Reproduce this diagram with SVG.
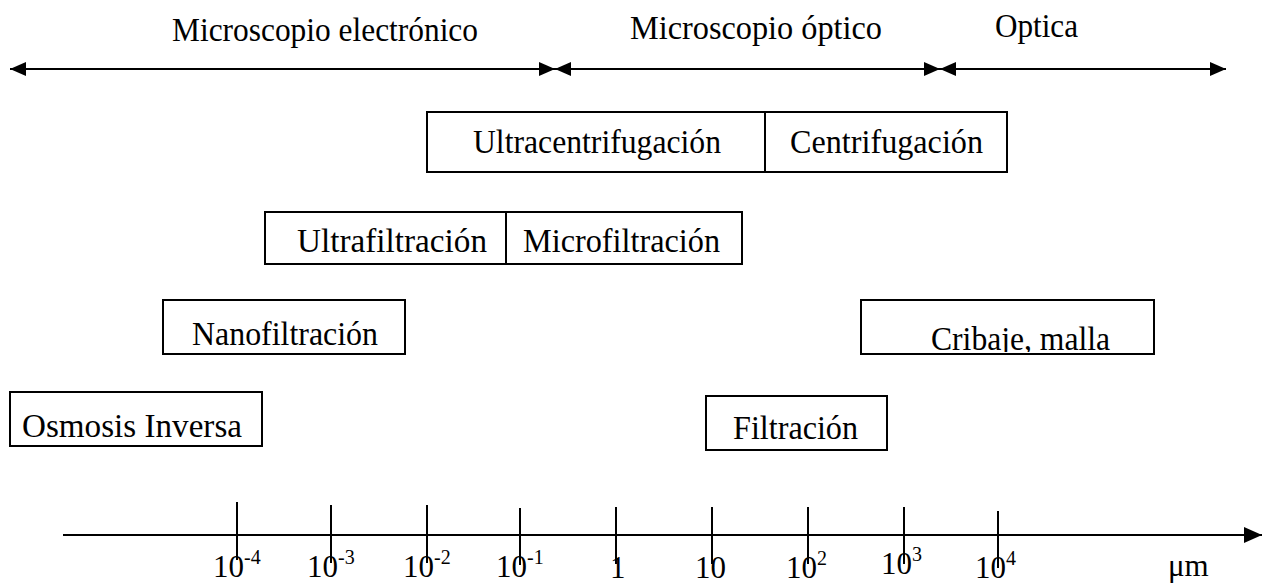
<svg xmlns="http://www.w3.org/2000/svg" width="1272" height="585" viewBox="0 0 1272 585">
<style>
text{font-family:"Liberation Serif","Times New Roman",serif;fill:#000}
.t{font-size:33px}
.a{font-size:31px}
.s{font-size:20px}
.box{fill:#fff;stroke:#000;stroke-width:2}
.ln{stroke:#000;stroke-width:2;fill:none}
</style>
<defs>
<marker id="ah" viewBox="0 0 16 16" refX="16" refY="8" markerWidth="16" markerHeight="16" markerUnits="userSpaceOnUse" orient="auto-start-reverse">
<path d="M0,1 L16,8 L0,15 Z" fill="#000"/>
</marker>
<marker id="ah2" viewBox="0 0 18 18" refX="18" refY="9" markerWidth="18" markerHeight="18" markerUnits="userSpaceOnUse" orient="auto">
<path d="M0,1 L18,9 L0,17 Z" fill="#000"/>
</marker>
<clipPath id="clipCrib"><rect x="861" y="300" width="293" height="52"/></clipPath>
</defs>
<rect width="1272" height="585" fill="#fff"/>

<g id="ranges">
<text class="t" x="172" y="41" textLength="306" lengthAdjust="spacingAndGlyphs">Microscopio electrónico</text>
<text class="t" x="630" y="39" textLength="252" lengthAdjust="spacingAndGlyphs">Microscopio óptico</text>
<text class="t" x="995" y="37" textLength="83" lengthAdjust="spacingAndGlyphs">Optica</text>
</g>

<g id="connectors">
<line class="ln" x1="10" y1="69" x2="555" y2="69" marker-start="url(#ah)" marker-end="url(#ah)"/>
<line class="ln" x1="555" y1="69" x2="940" y2="69" marker-start="url(#ah)" marker-end="url(#ah)"/>
<line class="ln" x1="940" y1="69" x2="1226" y2="69" marker-start="url(#ah)" marker-end="url(#ah)"/>
<line class="ln" x1="63" y1="535" x2="1262" y2="535" marker-end="url(#ah2)"/>
</g>

<g id="ultracentrifugacion">
<rect class="box" x="427" y="112" width="338" height="60"/>
<text class="t" x="473" y="153" textLength="248" lengthAdjust="spacingAndGlyphs">Ultracentrifugación</text>
</g>
<g id="centrifugacion">
<rect class="box" x="765" y="112" width="242" height="60"/>
<text class="t" x="790" y="153" textLength="193" lengthAdjust="spacingAndGlyphs">Centrifugación</text>
</g>
<g id="ultrafiltracion">
<rect class="box" x="265" y="212" width="241" height="52"/>
<text class="t" x="297" y="252" textLength="190" lengthAdjust="spacingAndGlyphs">Ultrafiltración</text>
</g>
<g id="microfiltracion">
<rect class="box" x="506" y="212" width="236" height="52"/>
<text class="t" x="523" y="252" textLength="197" lengthAdjust="spacingAndGlyphs">Microfiltración</text>
</g>
<g id="nanofiltracion">
<rect class="box" x="163" y="300" width="242" height="54"/>
<text class="t" x="192" y="345" textLength="186" lengthAdjust="spacingAndGlyphs">Nanofiltración</text>
</g>
<g id="osmosis">
<rect class="box" x="10" y="392" width="252" height="54"/>
<text class="t" x="22" y="437" textLength="220" lengthAdjust="spacingAndGlyphs">Osmosis Inversa</text>
</g>
<g id="cribaje">
<rect class="box" x="861" y="300" width="293" height="54"/>
<text class="t" x="931" y="350" textLength="179" lengthAdjust="spacingAndGlyphs" clip-path="url(#clipCrib)">Cribaje, malla</text>
</g>
<g id="filtracion">
<rect class="box" x="706" y="396" width="181" height="54"/>
<text class="t" x="733" y="439" textLength="125" lengthAdjust="spacingAndGlyphs">Filtración</text>
</g>

<g id="axis">
<g class="ln">
<line x1="237" y1="502" x2="237" y2="560"/>
<line x1="331" y1="505" x2="331" y2="563"/>
<line x1="427" y1="505" x2="427" y2="563"/>
<line x1="520" y1="508" x2="520" y2="565"/>
<line x1="616" y1="507" x2="616" y2="564"/>
<line x1="712" y1="507" x2="712" y2="564"/>
<line x1="808" y1="507" x2="808" y2="564"/>
<line x1="904" y1="507" x2="904" y2="564"/>
<line x1="998" y1="511" x2="998" y2="568"/>
</g>
<text class="a" x="213" y="577">10<tspan class="s" dy="-13">-4</tspan></text>
<text class="a" x="307" y="577">10<tspan class="s" dy="-13">-3</tspan></text>
<text class="a" x="403" y="577">10<tspan class="s" dy="-13">-2</tspan></text>
<text class="a" x="496" y="577">10<tspan class="s" dy="-13">-1</tspan></text>
<text class="a" x="610" y="578">1</text>
<text class="a" x="695" y="578">10</text>
<text class="a" x="786" y="578">10<tspan class="s" dy="-13">2</tspan></text>
<text class="a" x="881" y="574">10<tspan class="s" dy="-13">3</tspan></text>
<text class="a" x="975" y="578">10<tspan class="s" dy="-13">4</tspan></text>
<text class="a" x="1168" y="576">μm</text>
</g>
</svg>
